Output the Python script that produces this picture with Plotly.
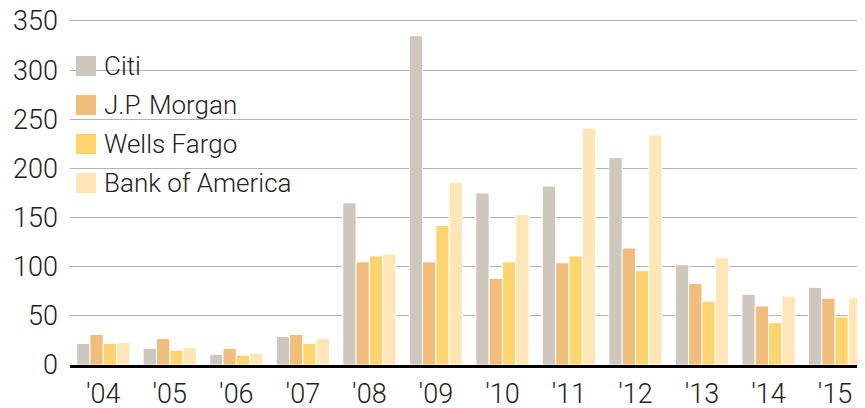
import plotly.graph_objects as go

years = ["'04", "'05", "'06", "'07", "'08", "'09", "'10", "'11", "'12", "'13", "'14", "'15"]
citi = [22, 17, 11, 29, 165, 335, 175, 182, 211, 102, 72, 79]
jpm = [31, 27, 17, 31, 105, 105, 88, 104, 119, 83, 60, 68]
wells = [22, 15, 10, 22, 111, 142, 105, 111, 96, 65, 43, 49]
boa = [23, 18, 12, 27, 113, 186, 153, 241, 234, 109, 70, 69]

series_names = ["Citi", "J.P. Morgan", "Wells Fargo", "Bank of America"]
series_values = [citi, jpm, wells, boa]
colors = ["#cec7bd", "#f1bd7c", "#fed46f", "#fee6b6"]

y_ticks = [0, 50, 100, 150, 200, 250, 300, 350]

FONT = "Roboto"
OFF = 8  # page body margin
W, H = 865 - OFF, 408 - OFF
ML, MR, MT, MB = 70 - OFF, 0, 19 - OFF, 408 - 365

fig = go.Figure()
for name, vals, col in zip(series_names, series_values, colors):
    fig.add_trace(go.Bar(
        x=years, y=vals, name=name,
        marker=dict(color=col, line=dict(color="white", width=1)),
        showlegend=False,
    ))

# custom legend (white boxes hide gridlines behind the text, like the original)
pw = W - ML - MR
ph = H - MT - MB
def px_x(p):
    return (p - OFF - ML) / pw
def px_y(p):
    return (H - MB - (p - OFF)) / ph

row_centers = [66, 105, 144, 183]
box_right = [159, 250, 252, 306]
shapes = []
annotations = []
for name, col, cy, br in zip(series_names, colors, row_centers, box_right):
    shapes.append(dict(type="rect", xref="paper", yref="paper", layer="between",
                       x0=px_x(70), x1=px_x(br), y0=px_y(cy + 19.5), y1=px_y(cy - 19.5),
                       fillcolor="white", line=dict(width=0)))
    shapes.append(dict(type="rect", xref="paper", yref="paper", layer="above",
                       x0=px_x(76), x1=px_x(96), y0=px_y(cy + 10), y1=px_y(cy - 10),
                       fillcolor=col, line=dict(width=0)))
    annotations.append(dict(xref="paper", yref="paper", x=px_x(102), y=px_y(cy),
                            xanchor="left", yanchor="middle", showarrow=False,
                            text=name, font=dict(family=FONT, size=26, color="#222222", weight=300)))

fig.update_layout(
    width=W, height=H,
    margin=dict(l=ML, r=MR, t=MT, b=MB, pad=0, autoexpand=False),
    paper_bgcolor="white", plot_bgcolor="white",
    barmode="group", bargap=0.2, bargroupgap=0,
    font=dict(family=FONT, size=26, color="#222222", weight=300),
    shapes=shapes, annotations=annotations,
    xaxis=dict(
        range=[-0.5, 11.45], showgrid=False, showline=True, linecolor="black",
        linewidth=3, ticks="", ticklabelstandoff=3, automargin=False,
        ticklabeloverflow="allow",
        tickfont=dict(family=FONT, size=27, color="#222222", weight=300),
    ),
    yaxis=dict(
        range=[0, 352], tickvals=y_ticks, showgrid=True, gridcolor="#b4b4b4",
        gridwidth=1, zeroline=False, ticks="", ticklabelstandoff=11, automargin=False,
        ticklabeloverflow="allow",
        tickfont=dict(family=FONT, size=27, color="#222222", weight=300),
    ),
)

fig.write_html("out.html")
